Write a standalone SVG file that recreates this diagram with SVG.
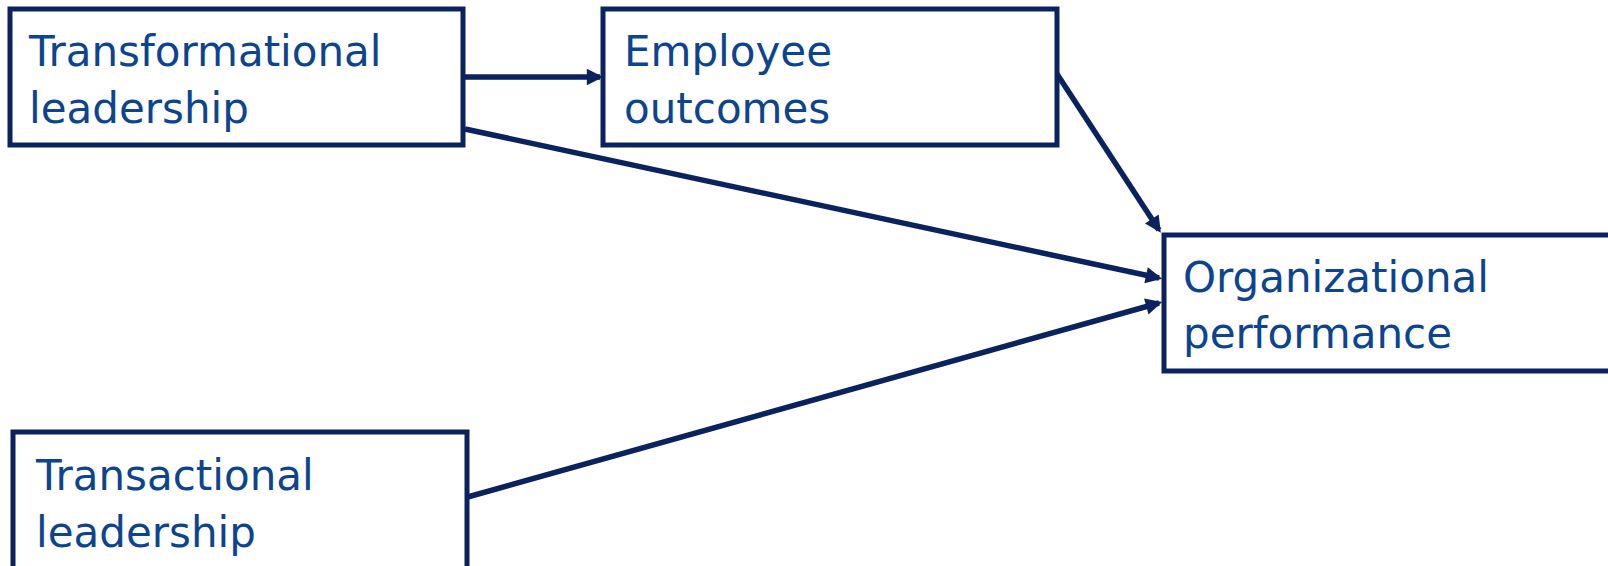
<svg xmlns="http://www.w3.org/2000/svg" width="1608" height="566" viewBox="0 0 1608 566">
  <style>
    .box { fill: #ffffff; stroke: #0a235f; stroke-width: 5; }
    .label { font-family: "DejaVu Sans", "Liberation Sans", sans-serif; font-size: 42px; fill: #0c4490; }
    .link { fill: none; stroke: #0a235f; stroke-width: 5.5; marker-end: url(#arrow); }
  </style>
  <defs>
    <!-- filled triangular head, sized relative to the connector stroke -->
    <marker id="arrow" viewBox="0 0 10 10" refX="8" refY="5" markerWidth="3.2" markerHeight="3" orient="auto" markerUnits="strokeWidth">
      <path d="M0,0 L10,5 L0,10 Z" fill="#0a235f"/>
    </marker>
  </defs>
  <rect width="1608" height="566" fill="#ffffff"/>

  <g id="connectors">
    <line class="link" x1="463" y1="77" x2="600" y2="77"/>
    <line class="link" x1="465" y1="129" x2="1159" y2="278"/>
    <line class="link" x1="1057" y1="74" x2="1159" y2="230"/>
    <line class="link" x1="464" y1="498" x2="1159" y2="303"/>
  </g>

  <g id="transformational">
    <rect class="box" x="10" y="9" width="453" height="136"/>
    <text class="label" x="29" y="66">Transformational</text>
    <text class="label" x="29" y="123">leadership</text>
  </g>

  <g id="employee">
    <rect class="box" x="603" y="9" width="454" height="136"/>
    <text class="label" x="624" y="66">Employee</text>
    <text class="label" x="624" y="123">outcomes</text>
  </g>

  <g id="organizational">
    <rect class="box" x="1164" y="235" width="450" height="136"/>
    <text class="label" x="1183" y="292">Organizational</text>
    <text class="label" x="1183" y="348">performance</text>
  </g>

  <g id="transactional">
    <rect class="box" x="13" y="432" width="454" height="140"/>
    <text class="label" x="36" y="490">Transactional</text>
    <text class="label" x="36" y="547">leadership</text>
  </g>
</svg>
